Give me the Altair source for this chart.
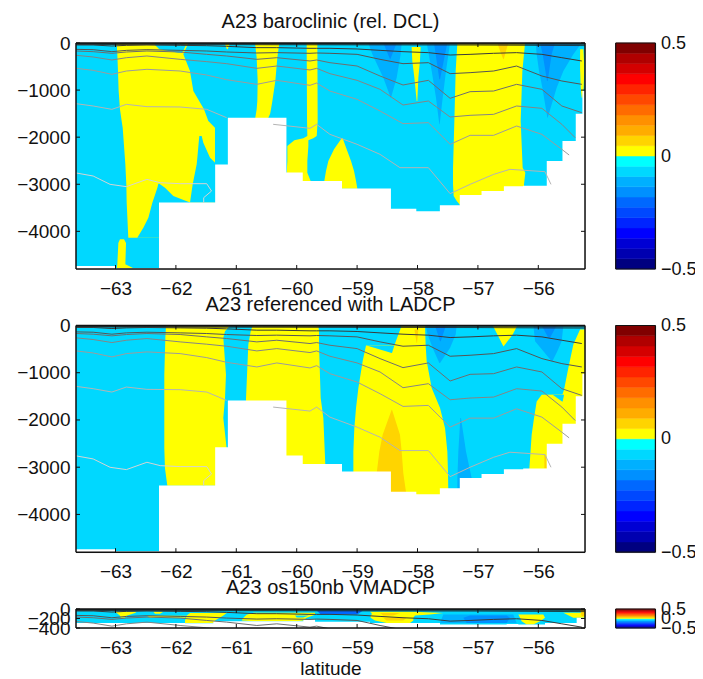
import altair as alt
import pandas as pd

FONT = "Liberation Sans"
FS = 19
LAT_MIN, LAT_MAX = -63.654, -55.227
LAT_TICKS = [-63, -62, -61, -60, -59, -58, -57, -56]

CYAN = "#00d8ff"; YEL = "#ffff00"; ORG = "#ffd400"; LB = "#00b0ff"; MB = "#0090ff"; DB = "#0068ff"

BAR_COLORS = ["#000080", "#0000b0", "#0000d4", "#0000ff", "#0024ff", "#0048ff", "#0068ff", "#0090ff",
              "#00b0ff", "#00d8ff", "#00ffff", "#ffff00", "#ffd400", "#ffac00", "#ff9000", "#ff6c00",
              "#ff4800", "#ff2400", "#ff0000", "#d40000", "#b00000", "#800000"]

BATH_EDGES = [-63.654, -63.0, -62.28, -61.35, -61.14, -60.17, -59.9, -59.25, -58.44, -58.02, -57.63,
              -57.3, -56.94, -56.57, -56.25, -55.86, -55.6, -55.38, -55.27, -55.227]
BATH_DEPTH = [4735, 4780, 3390, 2580, 1590, 2750, 2930, 3090, 3520, 3575, 3447, 3227, 3142, 3044, 3030,
              2505, 2080, 1500, 1020, 1020]
BATH3_EDGES = [-63.654, -61.849, -61.38, -59.89, -59.696, -58.787, -57.628, -56.524, -56.331, -55.889,
               -55.365, -55.227]
BATH3_DEPTH = [293, 300, 257, 221, 271, 293, 328, 314, 328, 293, 186, 186]

ST = [-63.65, -63.37, -63.06, -62.82, -62.48, -61.93, -61.49, -61.16, -60.66, -60.33, -59.78, -59.67,
      -59.45, -59.0, -58.62, -58.24, -57.82, -57.46, -57.13, -56.74, -56.36, -55.94, -55.61, -55.28]
LZ = [42, 42, 64, 50, 42, 50, 57, 71, 99, 99, 113, 113, 113, 127, 156, 184, 205, 255, 241, 219, 205, 241, 312, 382]
LA = [135, 142, 184, 156, 142, 156, 170, 191, 212, 205, 219, 212, 219, 241, 347, 439, 418, 651, 630, 595, 489, 701, 807, 878]
LB_ = [170, 184, 219, 191, 170, 191, 241, 276, 347, 312, 382, 361, 418, 489, 701, 892, 793, 1175, 1034, 1020, 878, 984, 1338, 1480]
LC = [262, 297, 361, 312, 276, 347, 396, 439, 538, 489, 573, 538, 651, 793, 984, 1317, 1232, 1572, 1536, 1515, 1338, 1388, 1727, 2011]
LC_LAT = ST[:-1] + [-55.39]
LD = [538, 581, 665, 595, 559, 595, 680, 779, 878, 793, 899, 850, 1020, 1197, 1444, 1713, 1692, 2152, 1961, 1961, 1763, 1940, 2259, 2379]
LD_LAT = ST[:-1] + [-55.49]
LE1_LAT = [-63.65, -63.37, -63.06, -62.82, -62.48, -61.93, -61.49, -61.16]
LE1 = [1289, 1338, 1409, 1303, 1352, 1359, 1409, 1586]
LE2_LAT = [-60.39, -59.78, -59.67, -59.45, -59.0, -58.62, -58.29, -57.82, -57.46, -57.13, -56.74, -56.47, -55.89, -55.79]
LE2 = [1727, 1812, 1727, 1940, 2152, 2365, 2648, 2648, 3200, 3002, 2790, 2683, 2733, 3002]
LF_LAT = [-63.65, -63.37, -63.09, -62.82, -62.48, -62.26, -61.93, -61.49, -61.41, -61.54, -61.54]
LF = [2761, 2825, 3002, 3051, 2896, 2967, 2988, 2988, 3144, 3285, 3391]
SURF_LAT = [-63.65, -61.0, -59.0, -57.0, -55.23]
S1 = [10, 10, 12, 10, 12]
S2 = [22, 24, 26, 26, 30]
S3 = [32, 36, 40, 44, 55]

LINES = [(SURF_LAT, S1, "#202020", 0.8), (SURF_LAT, S2, "#202020", 0.8), (SURF_LAT, S3, "#202020", 0.8),
         (ST, LZ, "#3a3a3a", 1), (ST, LA, "#555555", 1), (ST, LB_, "#6e6e6e", 1),
         (LC_LAT, LC, "#858585", 1), (LD_LAT, LD, "#9c9c9c", 1),
         (LE1_LAT, LE1, "#b4b4b4", 1), (LE2_LAT, LE2, "#b4b4b4", 1), (LF_LAT, LF, "#d4d4d4", 1)]

# filled contour regions: (depth, west latitude, east latitude)
P1 = [
    (YEL, [(0, -62.981, -61.794), (241, -62.970, -61.877), (595, -62.959, -61.767), (1020, -62.948, -61.711),
           (1409, -62.926, -61.535), (1657, -62.898, -61.463), (1798, -62.881, -61.353), (2577, -62.837, -61.353),
           (3002, -62.821, -61.353), (3391, -62.815, -61.353), (4135, -62.788, -61.353)]),
    (CYAN, [(1975, -61.612, -61.573), (2117, -61.623, -61.546), (2436, -61.645, -61.435), (2577, -61.656, -61.325),
            (3002, -61.722, -61.325), (3391, -61.767, -61.325)]),
    (CYAN, [(2988, -62.291, -62.274), (3073, -62.307, -62.181), (3250, -62.352, -62.043), (3391, -62.390, -61.756),
            (3710, -62.456, -61.711), (3922, -62.539, -61.711), (4135, -62.639, -61.711)]),
    (YEL, [(4170, -62.926, -62.859), (4250, -62.953, -62.826), (4700, -62.970, -62.837), (4800, -62.981, -62.677)]),
    (CYAN, [(0, -62.357, -61.960), (42, -62.346, -61.833), (135, -62.274, -61.866), (205, -61.960, -61.899)]),
    (YEL, [(0, -61.187, -61.104), (64, -61.176, -61.121), (135, -61.154, -61.143)]),
    (YEL, [(0, -60.690, -60.288), (312, -60.663, -60.321), (807, -60.646, -60.354), (1232, -60.652, -60.403),
           (1409, -60.663, -60.426), (1500, -60.675, -60.440), (1621, -60.690, -60.480)]),
    (YEL, [(0, -59.835, -59.658), (1657, -59.829, -59.653), (1975, -59.824, -59.669), (2025, -59.890, -59.725),
           (2067, -60.039, -59.807), (2188, -60.155, -59.807), (2506, -60.155, -59.824), (2754, -60.166, -59.824),
           (2931, -60.166, -59.769)]),
    (YEL, [(2025, -59.256, -59.239), (2259, -59.382, -59.173), (2506, -59.476, -59.101), (2719, -59.515, -59.051),
           (2931, -59.543, -59.018), (3094, -59.559, -58.996)]),
    (YEL, [(0, -57.340, -56.220), (595, -57.368, -56.264), (1657, -57.390, -56.292), (2648, -57.412, -56.259),
           (2754, -57.412, -56.215), (3002, -57.412, -56.237), (3250, -57.401, -56.237), (3356, -57.351, -56.237),
           (3441, -57.296, -56.237)]),
    (YEL, [(85, -58.097, -57.948), (382, -58.086, -57.959), (736, -58.052, -57.986), (1232, -58.014, -58.003)]),
    (YEL, [(135, -55.309, -55.254), (524, -55.309, -55.238), (949, -55.298, -55.249), (1161, -55.282, -55.271)]),
    (ORG, [(0, -56.678, -56.496), (170, -56.634, -56.535), (347, -56.579, -56.573)]),
    (LB, [(0, -58.814, -58.262), (241, -58.748, -58.279), (736, -58.566, -58.345), (1161, -58.444, -58.439)]),
    (MB, [(0, -58.566, -58.345), (347, -58.455, -58.450)]),
    (LB, [(0, -57.848, -57.462), (595, -57.765, -57.528), (1161, -57.694, -57.583), (1728, -57.639, -57.633)]),
    (MB, [(0, -57.727, -57.506), (772, -57.639, -57.627)]),
    (LB, [(0, -56.043, -55.282), (241, -56.027, -55.420), (595, -55.988, -55.585), (949, -55.933, -55.696),
          (1586, -55.850, -55.845)]),
    (MB, [(0, -55.972, -55.723), (241, -55.928, -55.779), (807, -55.856, -55.845)]),
]
P2 = [
    (YEL, [(0, -62.164, -61.104), (120, -62.169, -61.187), (262, -62.175, -61.215), (1041, -62.192, -61.171),
           (1536, -62.192, -61.187), (1961, -62.192, -61.215), (2598, -62.192, -61.160), (3023, -62.181, -61.160),
           (3391, -62.142, -61.160)]),
    (YEL, [(0, -60.729, -59.642), (120, -60.762, -59.631), (404, -60.801, -59.631), (1536, -60.839, -59.603),
           (1961, -60.839, -59.559), (2952, -60.839, -59.526)]),
    (YEL, [(0, -58.262, -57.876), (418, -58.383, -57.865), (425, -58.853, -57.865), (758, -58.908, -57.848),
           (1324, -58.979, -57.765), (1749, -59.018, -57.627), (2174, -59.046, -57.544), (2669, -59.062, -57.506),
           (3115, -59.062, -57.495), (3590, -59.062, -57.489)]),
    (CYAN, [(425, -58.842, -58.383), (581, -58.428, -58.422)]),
    (ORG, [(1784, -58.428, -58.422), (2315, -58.577, -58.290), (2669, -58.632, -58.262), (3129, -58.676, -58.235),
           (3533, -58.676, -58.190)]),
    (ORG, [(85, -58.052, -57.986), (368, -58.014, -58.008)]),
    (YEL, [(0, -56.755, -56.347), (191, -56.678, -56.424), (439, -56.579, -56.573)]),
    (YEL, [(85, -55.309, -55.227), (404, -55.420, -55.227), (899, -55.503, -55.227), (1359, -55.574, -55.227),
           (1460, -55.600, -55.227), (1466, -55.944, -55.227), (1607, -56.027, -55.227), (1961, -56.071, -55.227),
           (2315, -56.110, -55.227), (3023, -56.148, -55.227), (3200, -56.148, -55.227)]),
    (CYAN, [(1466, -55.762, -55.574), (1607, -55.608, -55.596)]),
    (ORG, [(2740, -55.900, -55.872), (3023, -55.900, -55.861)]),
    (LB, [(0, -57.865, -57.351), (191, -57.832, -57.368), (474, -57.749, -57.462), (793, -57.639, -57.627)]),
    (MB, [(0, -57.710, -57.528), (333, -57.627, -57.616)]),
    (LB, [(0, -56.082, -55.585), (333, -56.054, -55.613), (545, -55.916, -55.685), (758, -55.779, -55.767)]),
    (MB, [(0, -55.944, -55.696), (262, -55.834, -55.806)]),
    (LB, [(1961, -57.291, -57.280), (2669, -57.324, -57.197), (3235, -57.340, -57.103), (3448, -57.340, -57.076)]),
]
P3 = [
    (YEL, [(57, -63.008, -62.649), (86, -62.980, -62.677), (143, -62.925, -62.815), (186, -62.914, -62.843)]),
    (YEL, [(57, -62.373, -62.208), (100, -62.346, -62.263)]),
    (YEL, [(143, -62.484, -61.821), (186, -62.428, -61.849)]),
    (YEL, [(86, -61.766, -61.159), (136, -61.821, -61.214), (243, -61.849, -61.352), (293, -61.849, -61.380)]),
    (YEL, [(79, -60.717, -59.696), (120, -60.828, -59.696), (186, -60.883, -59.835), (243, -60.911, -59.890),
           (257, -60.717, -60.000)]),
    (CYAN, [(136, -60.028, -59.800), (180, -60.000, -59.890)]),
    (DB, [(29, -59.669, -58.900), (114, -59.600, -59.000)]),
    (YEL, [(57, -58.787, -58.069), (86, -58.759, -57.573), (114, -58.759, -57.793), (136, -58.776, -58.042),
           (186, -58.776, -58.069), (243, -58.704, -58.069), (293, -58.511, -58.125)]),
    (ORG, [(86, -58.621, -58.290), (136, -58.566, -58.400)]),
    (ORG, [(186, -58.566, -58.180), (243, -58.511, -58.235)]),
    (LB, [(114, -57.573, -56.414), (293, -57.628, -56.358)]),
    (MB, [(136, -57.131, -56.524), (186, -57.242, -56.469), (293, -57.186, -56.524)]),
    (YEL, [(114, -56.331, -55.917), (186, -56.303, -55.889), (257, -56.276, -55.972), (328, -56.193, -56.082)]),
    (YEL, [(79, -55.586, -55.255), (186, -55.420, -55.227)]),
    (ORG, [(7, -55.310, -55.227), (150, -55.282, -55.227)]),
]

TICK_X = 0.066
TICK_Y = 85


def panel(title, shapes, edges, bottoms, depth_max, yvals, h, xtitle=None, title_offset=2):
    xs = alt.Scale(domain=[LAT_MIN, LAT_MAX], nice=False, zero=False)
    ys = alt.Scale(domain=[-depth_max, 0], nice=False, zero=False)
    xaxis = alt.Axis(values=LAT_TICKS, format="d", tickSize=0, domain=False, grid=False, labelFontSize=FS,
                     labelFont=FONT, labelColor="#111111", labelPadding=10, labelOverlap=False, labelFlush=False,
                     labelBound=False, title=xtitle, titleFont=FONT, titleFontSize=FS, titleFontWeight="normal",
                     titleColor="#111111", titlePadding=2)
    yaxis = alt.Axis(values=yvals, format="d", tickSize=0, domain=False, grid=False, labelFontSize=FS,
                     labelFont=FONT, labelColor="#111111", labelPadding=6, labelOverlap=False, labelFlush=False,
                     labelBound=False, title=None)
    X = lambda f: alt.X(f, scale=xs, axis=xaxis)
    Y = lambda f: alt.Y(f, scale=ys, axis=yaxis)
    bg = pd.DataFrame({"a": [LAT_MIN], "b": [LAT_MAX], "t": [0], "u": [-depth_max]})
    layers = [alt.Chart(bg).mark_rect(color=CYAN).encode(x=X("a:Q"), x2="b:Q", y=Y("t:Q"), y2="u:Q")]
    for colour, rows in shapes:
        df = pd.DataFrame({"d": [-r[0] for r in rows], "w": [r[1] for r in rows], "e": [r[2] for r in rows]})
        layers.append(alt.Chart(df).mark_area(color=colour, orient="horizontal", clip=True).encode(
            y=Y("d:Q"), x=X("w:Q"), x2="e:Q"))
    bath = pd.DataFrame({"a": edges, "t": [-d for d in bottoms], "u": [-depth_max] * len(bottoms)})
    layers.append(alt.Chart(bath).mark_area(color="white", clip=True, interpolate="step-after").encode(
        x=X("a:Q"), y=Y("t:Q"), y2="u:Q"))
    for lats, deps, colour, op in LINES:
        df = pd.DataFrame({"lat": lats, "d": [-v for v in deps], "i": range(len(lats))})
        layers.append(alt.Chart(df).mark_line(color=colour, opacity=op, strokeWidth=1, clip=True).encode(
            x=X("lat:Q"), y=Y("d:Q"), order="i:Q"))
    # inward ticks on all four sides
    xt = pd.DataFrame({"x": LAT_TICKS * 2,
                       "a": [-depth_max] * len(LAT_TICKS) + [-TICK_Y] * len(LAT_TICKS),
                       "b": [-depth_max + TICK_Y] * len(LAT_TICKS) + [0] * len(LAT_TICKS)})
    layers.append(alt.Chart(xt).mark_rule(color="#111111", strokeWidth=1).encode(
        x=X("x:Q"), y=Y("a:Q"), y2="b:Q"))
    yt = pd.DataFrame({"y": yvals * 2,
                       "a": [LAT_MIN] * len(yvals) + [LAT_MAX - TICK_X] * len(yvals),
                       "b": [LAT_MIN + TICK_X] * len(yvals) + [LAT_MAX] * len(yvals)})
    layers.append(alt.Chart(yt).mark_rule(color="#111111", strokeWidth=1).encode(
        y=Y("y:Q"), x=X("a:Q"), x2="b:Q"))
    fx = pd.DataFrame({"y": [0, -depth_max], "a": [LAT_MIN] * 2, "b": [LAT_MAX] * 2})
    layers.append(alt.Chart(fx).mark_rule(color="#111111", strokeWidth=1.5).encode(
        y=Y("y:Q"), x=X("a:Q"), x2="b:Q"))
    fy = pd.DataFrame({"x": [LAT_MIN, LAT_MAX], "a": [-depth_max] * 2, "b": [0] * 2})
    layers.append(alt.Chart(fy).mark_rule(color="#111111", strokeWidth=1.5).encode(
        x=X("x:Q"), y=Y("a:Q"), y2="b:Q"))
    return alt.layer(*layers).properties(
        width=509, height=h,
        title=alt.Title(title, font=FONT, fontSize=20, fontWeight="normal", color="#111111", offset=title_offset))


def colorbar(h):
    n = len(BAR_COLORS)
    lo = [-0.5 + i / n for i in range(n)]
    df = pd.DataFrame({"lo": lo, "hi": [v + 1 / n for v in lo], "c": BAR_COLORS, "a": [0] * n, "b": [1] * n})
    xs = alt.Scale(domain=[0, 1], nice=False, zero=False)
    ys = alt.Scale(domain=[-0.5, 0.5], nice=False, zero=False)
    yaxis = alt.Axis(orient="right", values=[-0.5, 0, 0.5],
                     labelExpr="datum.value == 0 ? '0' : replace(format(datum.value, '.1f'), '-', '\u2212')",
                     tickSize=0, domain=False, grid=False, labelFontSize=18, labelFont=FONT, labelColor="#111111",
                     labelPadding=5, labelOverlap=False, labelFlush=False, labelBound=False, title=None)
    X = lambda f: alt.X(f, scale=xs, axis=None)
    Y = lambda f: alt.Y(f, scale=ys, axis=yaxis)
    r = alt.Chart(df).mark_rect(strokeWidth=0.5).encode(
        x=X("a:Q"), x2="b:Q", y=Y("lo:Q"), y2="hi:Q",
        color=alt.Color("c:N", scale=None), stroke=alt.Stroke("c:N", scale=None))
    fx = pd.DataFrame({"y": [0.5, -0.5], "a": [0, 0], "b": [1, 1]})
    fy = pd.DataFrame({"x": [0, 1], "a": [-0.5, -0.5], "b": [0.5, 0.5]})
    f1 = alt.Chart(fx).mark_rule(color="#111111", strokeWidth=1.2).encode(y=Y("y:Q"), x=X("a:Q"), x2="b:Q")
    f2 = alt.Chart(fy).mark_rule(color="#111111", strokeWidth=1.2).encode(x=X("x:Q"), y=Y("a:Q"), y2="b:Q")
    return alt.layer(r, f1, f2).properties(width=39.7, height=h)


p1 = panel("A23 baroclinic (rel. DCL)", P1, BATH_EDGES, BATH_DEPTH, 4800, [-4000, -3000, -2000, -1000, 0], 226)
p2 = panel("A23 referenced with LADCP", P2, BATH_EDGES, BATH_DEPTH, 4800, [-4000, -3000, -2000, -1000, 0], 226.7)
p3 = panel("A23 os150nb VMADCP", P3, BATH3_EDGES, BATH3_DEPTH, 400, [-400, -200, 0], 19, xtitle="latitude")

chart = alt.concat(p1, colorbar(226), p2, colorbar(226.7), p3, colorbar(19), columns=2,
                   spacing={"row": 56.5, "column": 30.7}, bounds="flush", align="each").properties(
    padding={"left": 8, "top": 3, "right": -2, "bottom": -2}
).configure_view(stroke=None).configure(background="white")

chart.save("out.html", embed_options={"renderer": "svg", "actions": False})
